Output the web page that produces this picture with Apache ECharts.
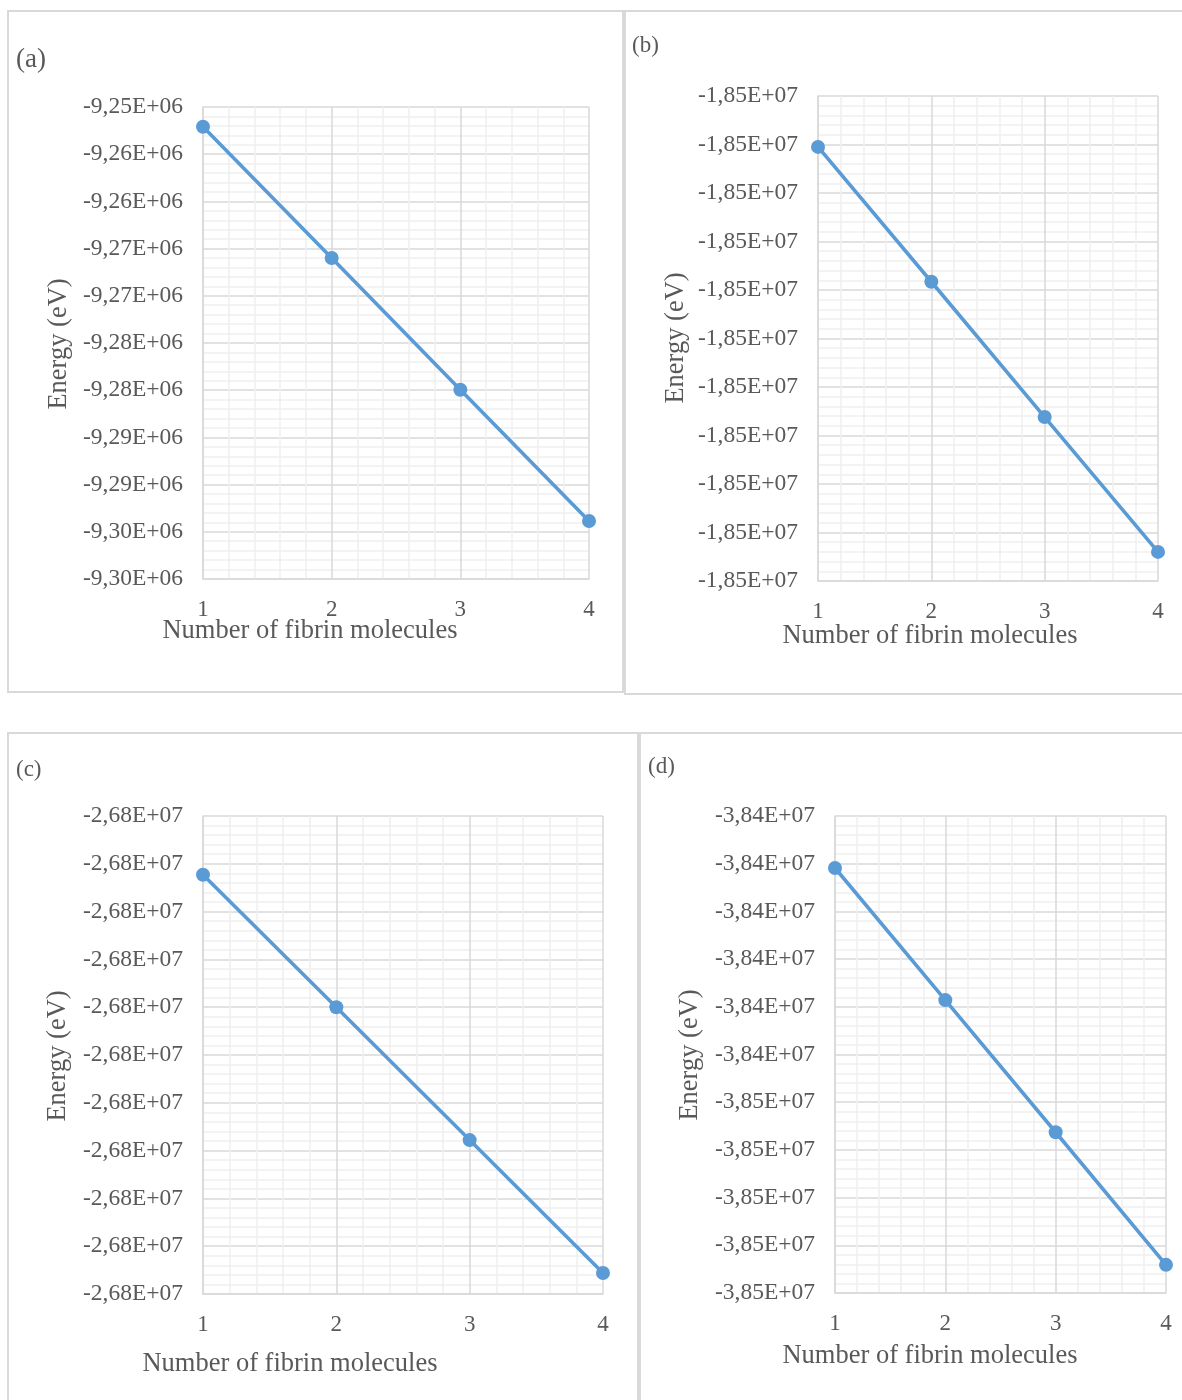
<!DOCTYPE html>
<html>
<head>
<meta charset="utf-8">
<title>Energy vs number of fibrin molecules</title>
<script src="https://cdn.jsdelivr.net/npm/echarts@6/dist/echarts.min.js"></script>
<style>
  html, body { margin: 0; padding: 0; background: #ffffff; }
  #chart { width: 1182px; height: 1400px; }
</style>
</head>
<body>
<div id="chart"></div>
<script>
// Number of fibrin molecules (x values shared by all panels)
const molecules = [1, 2, 3, 4];

// Total energy (eV) for each panel
const energyA = [-9252100, -9266000, -9279950, -9293850];
const energyB = [-18475250, -18489150, -18503100, -18517000];
const energyC = [-26786150, -26800000, -26813900, -26827800];
const energyD = [-38425450, -38439300, -38453150, -38467050];

// Y axis bounds (min, max) for each panel, step 5000 eV
const boundsA = [-9300000, -9250000];
const boundsB = [-18520000, -18470000];
const boundsC = [-26830000, -26780000];
const boundsD = [-38470000, -38420000];
const yStep = 5000;

const panelLabels = ['(a)', '(b)', '(c)', '(d)'];
const xTitle = 'Number of fibrin molecules';
const yTitle = 'Energy (eV)';

const FONT = '"Liberation Serif", "Times New Roman", serif';
const TEXT = '#595959';
const BLUE = '#5B9BD5';

// Excel-style scientific label with comma decimal separator, e.g. -9,25E+06
function sciLabel(v) {
  const a = Math.abs(v);
  const exp = Math.floor(Math.log10(a));
  const mant = Math.round(a / Math.pow(10, exp - 2));
  const s = String(mant);
  const e = (exp < 10 ? '0' : '') + exp;
  return (v < 0 ? '-' : '') + s[0] + ',' + s.slice(1) + 'E+' + e;
}

const grids = [
  { left: 203, top: 107, width: 386, height: 472 },
  { left: 818, top: 96,  width: 340, height: 485 },
  { left: 203, top: 816, width: 400, height: 478 },
  { left: 835, top: 816, width: 331, height: 477 }
];
const bounds = [boundsA, boundsB, boundsC, boundsD];
const energies = [energyA, energyB, energyC, energyD];

const xAxes = grids.map((g, i) => ({
  type: 'value', gridIndex: i, min: 1, max: 4, interval: 1,
  axisLine: { show: true, lineStyle: { color: '#D9D9D9', width: 1.5 } },
  axisTick: { show: false },
  axisLabel: { color: TEXT, fontFamily: FONT, fontSize: 23, margin: 19 },
  splitLine: { show: true, lineStyle: { color: '#D9D9D9', width: 1.5 } },
  minorTick: { show: false, splitNumber: 5 },
  minorSplitLine: { show: true, lineStyle: { color: '#EFEFEF', width: 1.5 } }
}));

const yAxes = grids.map((g, i) => ({
  type: 'value', gridIndex: i, min: bounds[i][0], max: bounds[i][1], interval: yStep,
  axisLine: { show: true, lineStyle: { color: '#D9D9D9', width: 1.5 } },
  axisTick: { show: false },
  axisLabel: {
    color: TEXT, fontFamily: FONT, fontSize: 23.5, margin: 20,
    padding: [4, 0, 0, 0], formatter: sciLabel
  },
  splitLine: { show: true, lineStyle: { color: '#D9D9D9', width: 1.5 } },
  minorTick: { show: false, splitNumber: 5 },
  minorSplitLine: { show: true, lineStyle: { color: '#EFEFEF', width: 1.5 } }
}));

const series = energies.map((vals, i) => ({
  type: 'line', xAxisIndex: i, yAxisIndex: i,
  data: molecules.map((m, k) => [m, vals[k]]),
  symbol: 'circle', symbolSize: 14,
  lineStyle: { color: BLUE, width: 3.6 },
  itemStyle: { color: BLUE },
  z: 5
}));

// Panel frames, panel letters and axis titles
const frames = [
  { x: 8,   y: 11,  w: 615, h: 681 },
  { x: 625, y: 11,  w: 570, h: 683 },
  { x: 8,   y: 733, w: 630, h: 680 },
  { x: 640, y: 733, w: 560, h: 680 }
];
const letterPos = [[16, 60, 27], [632, 46, 23], [16, 770, 23], [648, 767, 23]];
const xTitlePos = [[310, 631], [930, 636], [290, 1364], [930, 1356]];
const yTitlePos = [[59, 344], [676, 338], [58, 1056], [690, 1055]];

const graphic = [];
frames.forEach(f => graphic.push({
  type: 'rect', shape: { x: f.x, y: f.y, width: f.w, height: f.h },
  style: { fill: 'none', stroke: '#D9D9D9', lineWidth: 2 }, silent: true, z: 0
}));
panelLabels.forEach((t, i) => graphic.push({
  type: 'text', x: letterPos[i][0], y: letterPos[i][1],
  style: { text: t, fill: TEXT, font: letterPos[i][2] + 'px ' + FONT, verticalAlign: 'middle', align: 'left' }
}));
xTitlePos.forEach(p => graphic.push({
  type: 'text', x: p[0], y: p[1],
  style: { text: xTitle, fill: TEXT, font: '26.5px ' + FONT, align: 'center', verticalAlign: 'middle' }
}));
yTitlePos.forEach(p => graphic.push({
  type: 'text', x: p[0], y: p[1], rotation: Math.PI / 2,
  style: { text: yTitle, fill: TEXT, font: '26.5px ' + FONT, align: 'center', verticalAlign: 'middle' }
}));

const chart = echarts.init(document.getElementById('chart'), null, { renderer: 'canvas' });
chart.setOption({
  backgroundColor: '#ffffff',
  animation: false,
  grid: grids.map(g => Object.assign({ containLabel: false }, g)),
  xAxis: xAxes,
  yAxis: yAxes,
  series: series,
  graphic: graphic
});
</script>
</body>
</html>
